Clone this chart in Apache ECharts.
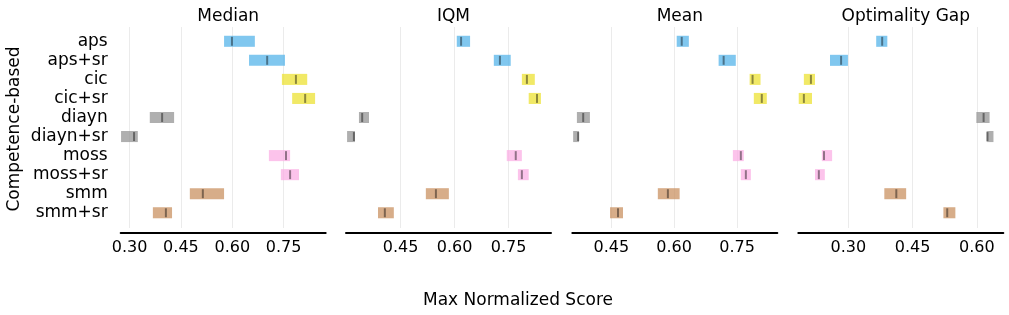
<!DOCTYPE html>
<html>
<head>
<meta charset="utf-8">
<script src="https://cdn.jsdelivr.net/npm/echarts@6/dist/echarts.min.js"></script>
<style>html,body{margin:0;padding:0;background:#fff}#c{width:1009px;height:315px}</style>
</head>
<body>
<div id="c"></div>
<script>
const algorithms = ['aps','aps+sr','cic','cic+sr','diayn','diayn+sr','moss','moss+sr','smm','smm+sr'];
const metrics = ['Median','IQM','Mean','Optimality Gap'];

const medianPoint = [0.599,0.702,0.786,0.813,0.395,0.313,0.757,0.769,0.514,0.406];
const medianLow   = [0.576,0.649,0.745,0.775,0.359,0.275,0.707,0.742,0.476,0.368];
const medianHigh  = [0.666,0.754,0.819,0.842,0.430,0.324,0.769,0.795,0.576,0.424];

const iqmPoint = [0.618,0.726,0.801,0.829,0.343,0.320,0.770,0.787,0.548,0.406];
const iqmLow   = [0.606,0.709,0.787,0.806,0.334,0.301,0.745,0.776,0.520,0.387];
const iqmHigh  = [0.643,0.756,0.823,0.840,0.362,0.323,0.787,0.806,0.584,0.431];

const meanPoint = [0.618,0.718,0.787,0.809,0.383,0.371,0.759,0.771,0.585,0.466];
const meanLow   = [0.606,0.706,0.780,0.790,0.368,0.359,0.740,0.759,0.561,0.447];
const meanHigh  = [0.635,0.747,0.806,0.821,0.399,0.373,0.766,0.783,0.613,0.478];

const ogPoint = [0.379,0.283,0.2125,0.196,0.616,0.625,0.243,0.231,0.412,0.531];
const ogLow   = [0.365,0.257,0.196,0.184,0.599,0.623,0.238,0.222,0.384,0.522];
const ogHigh  = [0.391,0.299,0.222,0.215,0.630,0.639,0.262,0.245,0.435,0.550];

const medianTicks = [0.30,0.45,0.60,0.75];
const iqmTicks = [0.45,0.60,0.75];
const meanTicks = [0.45,0.60,0.75];
const ogTicks = [0.30,0.45,0.60];

const axisRanges = [[0.274,0.873],[0.298,0.868],[0.357,0.846],[0.183,0.662]];

const algoColors = {
  'aps':'#56b4e9','aps+sr':'#56b4e9','cic':'#ece133','cic+sr':'#ece133',
  'diayn':'#949494','diayn+sr':'#949494','moss':'#fbafe4','moss+sr':'#fbafe4',
  'smm':'#ca9161','smm+sr':'#ca9161'
};

const panels = [
  {lo: medianLow, hi: medianHigh, pt: medianPoint, ticks: medianTicks},
  {lo: iqmLow, hi: iqmHigh, pt: iqmPoint, ticks: iqmTicks},
  {lo: meanLow, hi: meanHigh, pt: meanPoint, ticks: meanTicks},
  {lo: ogLow, hi: ogHigh, pt: ogPoint, ticks: ogTicks}
];

const gridLefts = [120.7, 346, 572.3, 798.3];
const gridWidth = 205;
const font = 'DejaVu Sans';

const grids = [], xAxes = [], yAxes = [], series = [], titles = [];
panels.forEach((p, i) => {
  grids.push({left: gridLefts[i], width: gridWidth, top: 27, height: 201});
  titles.push({
    text: metrics[i], left: gridLefts[i] + gridWidth/2, top: 3, textAlign: 'center',
    textStyle: {fontFamily: font, fontSize: 17, fontWeight: 'normal', color: '#000'}
  });
  xAxes.push({
    type: 'value', gridIndex: i, min: axisRanges[i][0], max: axisRanges[i][1],
    offset: 5, position: 'bottom',
    axisLine: {show: true, onZero: false, lineStyle: {color: '#000', width: 2}},
    axisTick: {show: false},
    splitLine: {show: false},
    axisLabel: {
      customValues: p.ticks, margin: 7,
      fontFamily: font, fontSize: 16, color: '#000',
      formatter: v => v.toFixed(2)
    }
  });
  yAxes.push({
    type: 'value', gridIndex: i, min: -0.75, max: 9.8, inverse: true,
    axisLine: {show: false, onZero: false}, axisTick: {show: false}, splitLine: {show: false},
    axisLabel: i === 0 ? {
      show: true, customValues: algorithms.map((a, k) => k), margin: 13,
      fontFamily: font, fontSize: 17, color: '#000', padding: [6, 0, 0, 0],
      formatter: v => algorithms[Math.round(v)] || ''
    } : {show: false}
  });
  const data = algorithms.map((a, k) => [p.lo[k], p.hi[k], p.pt[k], k]);
  series.push({
    type: 'custom', xAxisIndex: i, yAxisIndex: i, silent: true,
    data: data,
    encode: {x: [0, 1, 2], y: 3},
    renderItem: function (params, api) {
      const lo = api.value(0), hi = api.value(1), pt = api.value(2), row = api.value(3);
      const a = api.coord([lo, row]);
      const b = api.coord([hi, row]);
      const m = api.coord([pt, row]);
      const band = api.size([0, 1])[1];
      const h = band * 0.58;
      const mh = band * 0.47;
      const color = algoColors[algorithms[row]];
      return {
        type: 'group',
        children: [
          {type: 'rect', shape: {x: a[0], y: a[1] - h/2, width: b[0] - a[0], height: h},
           style: {fill: color, opacity: 0.75}},
          {type: 'rect', shape: {x: m[0] - 1, y: m[1] - mh/2, width: 2, height: mh},
           style: {fill: 'rgba(0,0,0,0.42)'}}
        ]
      };
    },
    markLine: {
      silent: true, symbol: 'none', label: {show: false},
      lineStyle: {color: '#ebebeb', width: 1, type: 'solid'},
      data: p.ticks.map(t => ({xAxis: t})),
      z: 0
    },
    z: 2
  });
});

titles.push({
  text: 'Max Normalized Score', left: 513, top: 287, textAlign: 'center',
  textStyle: {fontFamily: font, fontSize: 17, fontWeight: 'normal', color: '#000'}
});

const chart = echarts.init(document.getElementById('c'), null, {renderer: 'canvas'});
chart.setOption({
  animation: false,
  backgroundColor: '#fff',
  title: titles,
  grid: grids,
  xAxis: xAxes,
  yAxis: yAxes,
  series: series,
  graphic: [{
    type: 'text', rotation: Math.PI/2, x: 15, y: 129,
    style: {text: 'Competence-based', fontFamily: font, fontSize: 17, fill: '#000',
            align: 'center', verticalAlign: 'middle'}
  }]
});
</script>
</body>
</html>
